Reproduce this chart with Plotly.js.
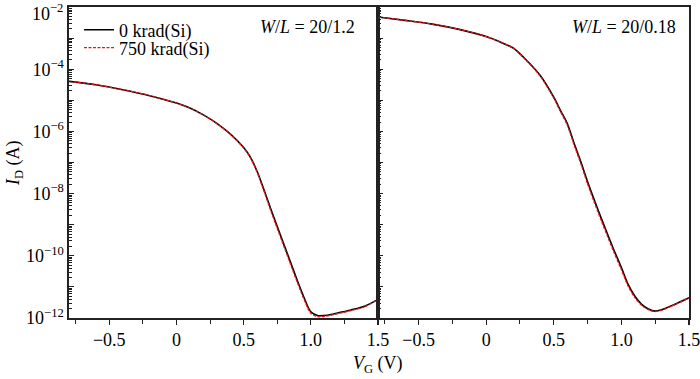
<!DOCTYPE html>
<html>
<head>
<meta charset="utf-8">
<script src="https://cdn.plot.ly/plotly-3.0.1.min.js"></script>
<style>html,body{margin:0;padding:0;background:#fff;}#chart{width:700px;height:379px;}</style>
</head>
<body>
<div id="chart"></div>
<script>
// Left panel: W/L = 20/1.2
const vgLeft = [-0.8, -0.6, -0.4, -0.2, 0, 0.1, 0.2, 0.3, 0.4, 0.5, 0.55, 0.6, 0.65, 0.7, 0.75, 0.8, 0.85, 0.9, 0.95, 1.0, 1.05, 1.1, 1.15, 1.2, 1.3, 1.4, 1.5];
const idLeft0 = [4.07e-5, 3.16e-5, 2.19e-5, 1.41e-5, 8.13e-6, 5.62e-6, 3.39e-6, 1.82e-6, 8.32e-7, 3.02e-7, 1.48e-7, 5.25e-8, 1.38e-8, 3.39e-9, 8.71e-10, 2.29e-10, 6.03e-11, 1.58e-11, 4.47e-12, 1.58e-12, 1.20e-12, 1.20e-12, 1.29e-12, 1.45e-12, 1.82e-12, 2.40e-12, 3.98e-12];
const idLeft750 = [4.07e-5, 3.16e-5, 2.19e-5, 1.41e-5, 8.13e-6, 5.62e-6, 3.39e-6, 1.80e-6, 8.20e-7, 2.95e-7, 1.42e-7, 4.90e-8, 1.25e-8, 3.00e-9, 7.60e-10, 2.00e-10, 5.20e-11, 1.38e-11, 3.90e-12, 1.42e-12, 1.10e-12, 1.12e-12, 1.22e-12, 1.38e-12, 1.74e-12, 2.30e-12, 3.90e-12];

// Right panel: W/L = 20/0.18
const vgRight = [-0.8, -0.6, -0.4, -0.2, 0, 0.1, 0.2, 0.3, 0.4, 0.5, 0.55, 0.6, 0.65, 0.7, 0.75, 0.8, 0.85, 0.9, 0.95, 1.0, 1.05, 1.1, 1.15, 1.2, 1.25, 1.3, 1.4, 1.5];
const idRight0 = [4.79e-3, 3.72e-3, 2.82e-3, 1.91e-3, 1.12e-3, 7.59e-4, 4.79e-4, 1.91e-4, 6.31e-5, 1.26e-5, 4.68e-6, 1.78e-6, 4.17e-7, 1.05e-7, 2.40e-8, 6.17e-9, 1.66e-9, 4.68e-10, 1.35e-10, 4.17e-11, 1.20e-11, 5.01e-12, 2.75e-12, 1.95e-12, 1.66e-12, 1.86e-12, 2.82e-12, 4.47e-12];
const idRight750 = [4.79e-3, 3.72e-3, 2.82e-3, 1.91e-3, 1.12e-3, 7.59e-4, 4.75e-4, 1.86e-4, 6.00e-5, 1.18e-5, 4.30e-6, 1.60e-6, 3.70e-7, 9.20e-8, 2.05e-8, 5.20e-9, 1.40e-9, 3.95e-10, 1.15e-10, 3.60e-11, 1.05e-11, 4.50e-12, 2.55e-12, 1.85e-12, 1.60e-12, 1.80e-12, 2.75e-12, 4.40e-12];

const seriesNames = ['0 krad(Si)', '750 krad(Si)'];
const panelLabels = ['<i>W</i>/<i>L</i> = 20/1.2', '<i>W</i>/<i>L</i> = 20/0.18'];

const xTickVals = [-0.5, 0, 0.5, 1.0, 1.5];
const xTickText = ['\u22120.5', '0', '0.5', '1.0', '1.5'];
const yTickVals = [1e-12, 1e-11, 1e-10, 1e-9, 1e-8, 1e-7, 1e-6, 1e-5, 1e-4, 1e-3, 1e-2];
const yTickText = ['10<sup>\u221212</sup>', '', '10<sup>\u221210</sup>', '', '10<sup>\u22128</sup>', '', '10<sup>\u22126</sup>', '', '10<sup>\u22124</sup>', '', ''];
const yTopLabel = '10<sup>\u22122</sup>';
const yMinorVals = [];
for (let e = -12; e < -2; e++) { for (let m = 2; m <= 9; m++) yMinorVals.push(m * Math.pow(10, e)); }

const FONT = "'Liberation Serif', 'Times New Roman', serif";
const FS = 18;
const blackLine = {color: '#000000', width: 1.6, shape: 'spline', smoothing: 0.8};
const redLine = {color: '#ee1111', width: 1.3, dash: '3px,1.5px', shape: 'spline', smoothing: 0.8};

const traces = [
  {x: vgLeft, y: idLeft0, xaxis: 'x', yaxis: 'y', mode: 'lines', name: seriesNames[0], line: blackLine, legend: 'legend'},
  {x: vgLeft, y: idLeft750, xaxis: 'x', yaxis: 'y', mode: 'lines', name: seriesNames[1], line: redLine, legend: 'legend2'},
  {x: vgRight, y: idRight0, xaxis: 'x2', yaxis: 'y2', mode: 'lines', name: seriesNames[0], line: blackLine, showlegend: false},
  {x: vgRight, y: idRight750, xaxis: 'x2', yaxis: 'y2', mode: 'lines', name: seriesNames[1], line: redLine, showlegend: false}
];

const T = 7, B = 61, L = 69, R = 11;
const PH = 379 - T - B, PW = 700 - L - R;
const px = v => (v - L) / PW;
const py = v => (379 - B - v) / PH;
const split = px(378);

const xCommon = {
  range: [-0.8, 1.5], tickvals: xTickVals, ticktext: xTickText,
  ticks: 'outside', ticklen: 5, tickwidth: 1.2, tickcolor: '#222',
  minor: {ticks: 'outside', ticklen: 4, tickwidth: 1, tickcolor: '#222', tickvals: [-0.75, -0.25, 0.25, 0.75, 1.25]},
  showline: true, linecolor: '#222', linewidth: 1.6, mirror: true,
  showgrid: false, zeroline: false,
  ticklabeloverflow: 'allow',
  tickfont: {family: FONT, size: FS, color: '#000'}
};
const yCommon = {
  type: 'log', range: [-12, -2], tickvals: yTickVals, ticktext: yTickText,
  ticks: 'inside', ticklen: 5, tickwidth: 1.2, tickcolor: '#222',
  minor: {ticks: 'inside', ticklen: 3, tickwidth: 1, tickcolor: '#222', tickvals: yMinorVals},
  showline: true, linecolor: '#222', linewidth: 1.6, mirror: true,
  showgrid: false, zeroline: false,
  ticklabeloverflow: 'allow',
  tickfont: {family: FONT, size: FS, color: '#000'}
};

const legendBase = {xanchor: 'left', yanchor: 'middle', bgcolor: 'rgba(0,0,0,0)',
  font: {family: FONT, size: FS, color: '#000'}, itemwidth: 30, borderwidth: 0};

const layout = {
  width: 700, height: 379,
  margin: {l: L, r: R, t: T, b: B},
  paper_bgcolor: '#fff', plot_bgcolor: '#fff',
  font: {family: FONT, size: FS, color: '#000'},
  xaxis: Object.assign({}, xCommon, {domain: [0, split], anchor: 'y'}),
  xaxis2: Object.assign({}, xCommon, {domain: [split, 1], anchor: 'y2'}),
  yaxis: Object.assign({}, yCommon, {anchor: 'x'}),
  yaxis2: Object.assign({}, yCommon, {anchor: 'x2', showticklabels: false}),
  showlegend: true,
  legend: Object.assign({}, legendBase, {x: px(79), y: py(30)}),
  legend2: Object.assign({}, legendBase, {x: px(79), y: py(48)}),
  annotations: [
    {text: yTopLabel, xref: 'paper', yref: 'y', x: px(65), y: -2, yshift: -5,
     xanchor: 'right', yanchor: 'middle', showarrow: false, font: {family: FONT, size: FS, color: '#000'}},
    {text: panelLabels[0], xref: 'paper', yref: 'paper', x: px(357), y: py(27),
     xanchor: 'right', yanchor: 'middle', showarrow: false, font: {family: FONT, size: FS, color: '#000'}},
    {text: panelLabels[1], xref: 'paper', yref: 'paper', x: px(678), y: py(27),
     xanchor: 'right', yanchor: 'middle', showarrow: false, font: {family: FONT, size: FS, color: '#000'}},
    {text: '<i>V</i><sub>G</sub> (V)', xref: 'paper', yref: 'paper', x: px(378), y: py(364),
     xanchor: 'center', yanchor: 'middle', showarrow: false, font: {family: FONT, size: FS, color: '#000'}},
    {text: '<i>I</i><sub>D</sub> (A)', xref: 'paper', yref: 'paper', x: px(14), y: py(163),
     xanchor: 'center', yanchor: 'middle', textangle: -90, showarrow: false, font: {family: FONT, size: FS, color: '#000'}}
  ]
};

Plotly.newPlot('chart', traces, layout, {displayModeBar: false, staticPlot: true});
</script>
</body>
</html>
